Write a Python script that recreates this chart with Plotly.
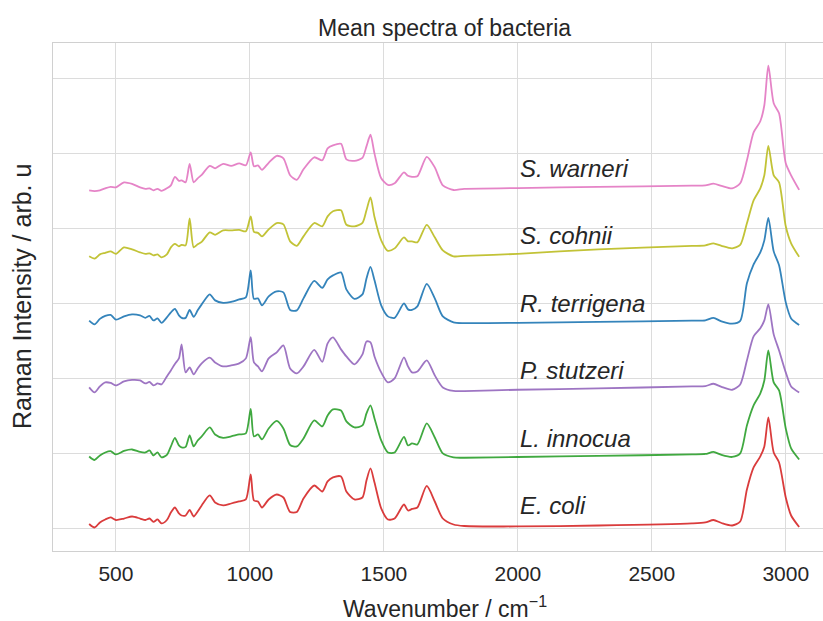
import plotly.graph_objects as go

WAVENUMBER = [400, 420, 440, 460, 480, 500, 530, 560, 590, 610, 625, 640, 655, 670, 690,
              705, 720, 735, 745, 760, 775, 790, 805, 820, 850, 870, 900, 930, 960, 985,
              1003, 1015, 1030, 1045, 1070, 1100, 1125, 1150, 1175, 1200, 1240, 1270, 1290,
              1310, 1340, 1360, 1390, 1420, 1435, 1450, 1465, 1490, 1515, 1540, 1575, 1590,
              1605, 1625, 1660, 1690, 1720, 1760, 1800, 2000, 2300, 2650, 2700, 2730, 2760,
              2800, 2830, 2855, 2880, 2905, 2920, 2935, 2955, 2975, 3000, 3020, 3050]

# stacked (offset) mean intensities, arb. u
E_COLI = [0.06, 0.013, 0.08, 0.12, 0.147, 0.113, 0.133, 0.16, 0.133, 0.113, 0.133, 0.087, 0.12, 0.067, 0.113,
          0.213, 0.28, 0.2, 0.173, 0.173, 0.247, 0.16, 0.227, 0.307, 0.44, 0.347, 0.307, 0.333, 0.36, 0.387,
          0.72, 0.373, 0.36, 0.28, 0.387, 0.453, 0.413, 0.22, 0.22, 0.4, 0.573, 0.493, 0.627,
          0.68, 0.693, 0.493, 0.387, 0.413, 0.64, 0.80, 0.613, 0.267, 0.12, 0.133, 0.32, 0.24,
          0.26, 0.28, 0.567, 0.36, 0.133, 0.053, 0.033, 0.027, 0.04, 0.067, 0.08, 0.113, 0.073,
          0.04, 0.093, 0.52, 0.813, 0.96, 1.093, 1.48, 1.013, 0.88, 0.413, 0.173, 0.02]

L_INNOCUA = [0.96, 0.913, 0.973, 1.013, 1.031, 0.987, 1.033, 1.053, 1.02, 1.013, 1.04, 0.973, 1.013, 0.947, 0.98,
             1.093, 1.207, 1.107, 1.08, 1.087, 1.24, 1.093, 1.173, 1.227, 1.347, 1.253, 1.207, 1.227, 1.253, 1.267,
             1.593, 1.227, 1.253, 1.187, 1.333, 1.433, 1.333, 1.113, 1.093, 1.2, 1.44, 1.36, 1.507,
             1.587, 1.573, 1.427, 1.347, 1.373, 1.533, 1.64, 1.467, 1.173, 1.013, 1.013, 1.22, 1.107,
             1.133, 1.12, 1.40, 1.213, 1.0, 0.947, 0.943, 0.953, 0.967, 0.987, 0.993, 1.02, 0.98,
             0.953, 1.0, 1.373, 1.64, 1.80, 1.973, 2.373, 1.947, 1.84, 1.333, 1.067, 0.92]

P_STUTZERI = [1.88, 1.813, 1.893, 1.947, 1.94, 1.907, 1.96, 1.98, 1.973, 1.933, 1.953, 1.907, 1.933, 1.92, 2.027,
              2.107, 2.193, 2.267, 2.453, 2.08, 2.147, 2.053, 2.133, 2.2, 2.276, 2.213, 2.16, 2.173, 2.2, 2.267,
              2.551, 2.213, 2.16, 2.093, 2.267, 2.347, 2.44, 2.133, 2.067, 2.16, 2.38, 2.22, 2.467,
              2.547, 2.387, 2.293, 2.187, 2.32, 2.493, 2.48, 2.293, 2.08, 1.947, 2.0, 2.28, 2.16,
              2.08, 2.093, 2.24, 2.04, 1.88, 1.833, 1.831, 1.849, 1.867, 1.893, 1.897, 1.929, 1.887,
              1.849, 1.92, 2.24, 2.56, 2.667, 2.773, 2.987, 2.587, 2.373, 2.08, 1.893, 1.813]

R_TERRIGENA = [2.769, 2.72, 2.793, 2.833, 2.847, 2.783, 2.827, 2.853, 2.84, 2.807, 2.833, 2.773, 2.8, 2.74, 2.813,
               2.88, 2.927, 2.84, 2.807, 2.807, 2.913, 2.82, 2.907, 2.987, 3.12, 3.04, 3.007, 3.02, 3.053, 3.08,
               3.44, 3.06, 3.067, 2.973, 3.093, 3.16, 3.147, 2.913, 2.907, 3.067, 3.30, 3.207, 3.32,
               3.373, 3.413, 3.187, 3.06, 3.12, 3.333, 3.487, 3.307, 2.973, 2.827, 2.807, 3.0, 2.92,
               2.913, 2.96, 3.26, 3.067, 2.827, 2.747, 2.737, 2.74, 2.753, 2.769, 2.773, 2.807, 2.76,
               2.729, 2.767, 3.267, 3.52, 3.68, 3.84, 4.14, 3.693, 3.507, 3.013, 2.80, 2.713]

S_COHNII = [3.627, 3.596, 3.653, 3.673, 3.693, 3.66, 3.747, 3.72, 3.68, 3.66, 3.667, 3.64, 3.653, 3.613, 3.653,
            3.747, 3.793, 3.76, 3.78, 3.773, 4.133, 3.747, 3.787, 3.82, 3.947, 3.913, 3.973, 3.973, 3.98, 3.96,
            4.16, 3.953, 3.94, 3.893, 3.987, 4.071, 4.053, 3.827, 3.767, 3.893, 4.071, 4.027, 4.16,
            4.227, 4.24, 4.047, 4.027, 4.073, 4.24, 4.413, 4.151, 3.84, 3.70, 3.733, 3.88, 3.827,
            3.827, 3.813, 4.047, 3.88, 3.707, 3.627, 3.633, 3.66, 3.721, 3.765, 3.773, 3.80, 3.767,
            3.733, 3.78, 4.067, 4.373, 4.533, 4.707, 5.10, 4.707, 4.613, 4.027, 3.80, 3.62]

S_WARNERI = [4.507, 4.497, 4.507, 4.533, 4.553, 4.547, 4.613, 4.593, 4.547, 4.527, 4.533, 4.507, 4.527, 4.50, 4.533,
             4.573, 4.687, 4.633, 4.64, 4.613, 4.86, 4.613, 4.667, 4.713, 4.833, 4.80, 4.86, 4.833, 4.867, 4.84,
             5.013, 4.827, 4.84, 4.78, 4.873, 4.967, 4.933, 4.707, 4.647, 4.787, 4.947, 4.907, 5.067,
             5.107, 5.127, 4.92, 4.90, 4.94, 5.093, 5.247, 4.996, 4.667, 4.58, 4.60, 4.747, 4.70,
             4.687, 4.693, 4.953, 4.813, 4.573, 4.511, 4.527, 4.536, 4.553, 4.569, 4.573, 4.596, 4.567,
             4.533, 4.60, 4.907, 5.28, 5.427, 5.64, 6.167, 5.667, 5.533, 4.867, 4.707, 4.513]

SPECIES = ["E. coli", "L. innocua", "P. stutzeri", "R. terrigena", "S. cohnii", "S. warneri"]
SERIES = [E_COLI, L_INNOCUA, P_STUTZERI, R_TERRIGENA, S_COHNII, S_WARNERI]
COLORS = ["#d62728", "#2ca02c", "#9467bd", "#1f77b4", "#bcbd22", "#e377c2"]
LABEL_Y = [0.3, 1.2, 2.1, 3.0, 3.9, 4.8]
LABEL_X = 2000
X_TICKS = [500, 1000, 1500, 2000, 2500, 3000]

for s in SERIES:
    assert len(s) == len(WAVENUMBER)

FONT = "Liberation Sans, Arial, sans-serif"
TXT = "#262626"

fig = go.Figure()
for name, vals, col in zip(SPECIES, SERIES, COLORS):
    fig.add_trace(go.Scatter(x=WAVENUMBER, y=vals, mode="lines", name=name,
                             line=dict(color=col, width=1.8, shape="spline", smoothing=0.7),
                             opacity=0.9, showlegend=False))

for name, ly in zip(SPECIES, LABEL_Y):
    fig.add_annotation(x=LABEL_X, y=ly, xref="x", yref="y", text=f"<i>{name}</i>",
                       showarrow=False, xanchor="left", yanchor="middle",
                       font=dict(family=FONT, size=24, color=TXT))

L, R, T, B = 53, 0, 43, 70
W, H = 823, 621
pw, ph = W - L - R, H - T - B
cx = (445 - L) / pw

fig.add_annotation(xref="paper", yref="paper", x=cx, y=1 + (T - 28) / ph,
                   text="Mean spectra of bacteria", showarrow=False,
                   xanchor="center", yanchor="middle", font=dict(family=FONT, size=23, color=TXT))
fig.add_annotation(xref="paper", yref="paper", x=cx, y=-(607 - (H - B)) / ph,
                   text="Wavenumber / cm<sup>\u22121</sup>", showarrow=False,
                   xanchor="center", yanchor="middle", font=dict(family=FONT, size=23, color=TXT))
fig.add_annotation(xref="paper", yref="paper", x=-(L - 22) / pw, y=0.5,
                   text="Raman Intensity / arb. u", showarrow=False, textangle=-90,
                   xanchor="center", yanchor="middle", font=dict(family=FONT, size=25, color=TXT))

fig.update_layout(
    width=W, height=H, margin=dict(l=L, r=R, t=T, b=B, pad=0),
    paper_bgcolor="white", plot_bgcolor="white",
    font=dict(family=FONT, size=21, color=TXT),
    xaxis=dict(range=[265, 3139], tickvals=X_TICKS, showgrid=True, gridcolor="#dcdcdc",
               gridwidth=1.4, zeroline=False, showline=True, linecolor="#d0d0d0", linewidth=1.4,
               mirror=True, ticks="", ticklabelstandoff=4, tickfont=dict(size=21, color=TXT)),
    yaxis=dict(range=[-0.3, 6.47], tickvals=[0, 1, 2, 3, 4, 5, 6], showticklabels=False,
               showgrid=True, gridcolor="#dcdcdc", gridwidth=1.4, zeroline=False,
               showline=True, linecolor="#d0d0d0", linewidth=1.4, ticks=""),
)

fig.write_html("out.html")
